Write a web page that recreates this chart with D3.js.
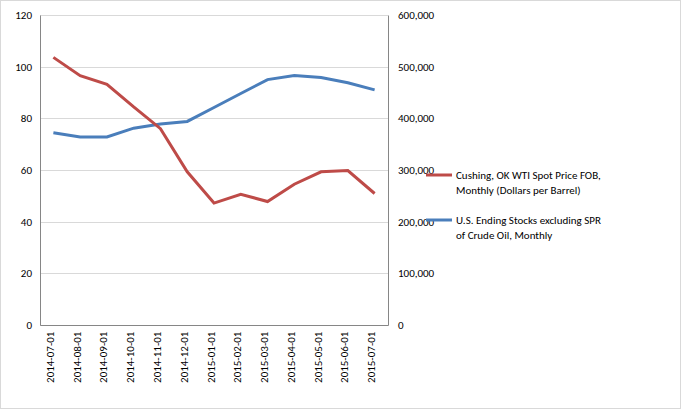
<!DOCTYPE html>
<html><head><meta charset="utf-8">
<script src="https://cdn.jsdelivr.net/npm/d3@7"></script>
<style>body{margin:0;background:#fff}text{font-family:Calibri,Carlito,"Liberation Sans",sans-serif;font-size:11px;fill:#000}</style>
</head><body><svg id="chart" width="681" height="409"></svg>
<script>
let months = ["2014-07-01","2014-08-01","2014-09-01","2014-10-01","2014-11-01","2014-12-01","2015-01-01","2015-02-01","2015-03-01","2015-04-01","2015-05-01","2015-06-01","2015-07-01"];
let wtiPrice = [103.6, 96.5, 93.2, 84.4, 76.0, 59.3, 47.2, 50.6, 47.8, 54.5, 59.3, 59.8, 50.9];
let stocks = [372000, 364000, 364000, 381000, 389000, 394000, 421000, 448000, 475000, 483000, 479000, 469000, 455000];
let leftTicks = [0, 20, 40, 60, 80, 100, 120];
let rightTicks = [0, 100000, 200000, 300000, 400000, 500000, 600000];

let canvas = d3.select("#chart");
canvas.append("rect").attr("x", 0.5).attr("y", 0.5).attr("width", 680).attr("height", 408)
    .attr("fill", "#fff").attr("stroke", "#d9d9d9");

let plotLeft = 40, plotRight = 388, plotTop = 15, plotBottom = 325;
let x = d3.scaleBand().domain(months).range([plotLeft, plotRight]);
let yL = d3.scaleLinear().domain([0, 120]).range([plotBottom, plotTop]);
let yR = d3.scaleLinear().domain([0, 600000]).range([plotBottom, plotTop]);

canvas.append("g").selectAll("line").data(leftTicks).join("line")
    .attr("x1", plotLeft).attr("x2", plotRight)
    .attr("y1", d => Math.round(yL(d)) + 0.5).attr("y2", d => Math.round(yL(d)) + 0.5)
    .attr("stroke", "#d9d9d9");

canvas.append("g").attr("transform", "translate(" + plotLeft + ",0)")
    .call(d3.axisLeft(yL).tickValues(leftTicks).tickSize(0).tickPadding(8))
    .call(g => g.select(".domain").attr("stroke", "#868686"));
canvas.append("g").attr("transform", "translate(" + plotRight + ",0)")
    .call(d3.axisRight(yR).tickValues(rightTicks).tickSize(0).tickPadding(10))
    .call(g => g.select(".domain").attr("stroke", "#868686"));

let xAxis = canvas.append("g").attr("transform", "translate(0," + plotBottom + ")")
    .call(d3.axisBottom(x).tickSize(0).tickPadding(6));
xAxis.select(".domain").attr("stroke", "#868686");
xAxis.selectAll("text")
    .style("text-anchor", "end")
    .attr("dx", "-.6em").attr("dy", "-.5em")
    .attr("transform", "rotate(-90)");
canvas.selectAll("g").attr("font-family", null).attr("font-size", null);

let cx = d => x(d) + x.bandwidth() / 2;
canvas.append("path").datum(stocks)
    .attr("fill", "none").attr("stroke", "#4a7ebb").attr("stroke-width", 3)
    .attr("d", d3.line().x((d, i) => cx(months[i])).y(d => yR(d)));
canvas.append("path").datum(wtiPrice)
    .attr("fill", "none").attr("stroke", "#be4b48").attr("stroke-width", 3)
    .attr("d", d3.line().x((d, i) => cx(months[i])).y(d => yL(d)));

let legend = [
    {c: "#be4b48", y: 175, t: ["Cushing, OK WTI Spot Price FOB,", "Monthly (Dollars per Barrel)"]},
    {c: "#4a7ebb", y: 220, t: ["U.S. Ending Stocks excluding SPR", "of Crude Oil, Monthly"]}
];
legend.forEach(l => {
    canvas.append("line").attr("x1", 426).attr("x2", 452).attr("y1", l.y).attr("y2", l.y)
        .attr("stroke", l.c).attr("stroke-width", 3);
    l.t.forEach((s, i) => canvas.append("text").attr("x", 456).attr("y", l.y + 4 + i * 15).text(s));
});
</script></body></html>
